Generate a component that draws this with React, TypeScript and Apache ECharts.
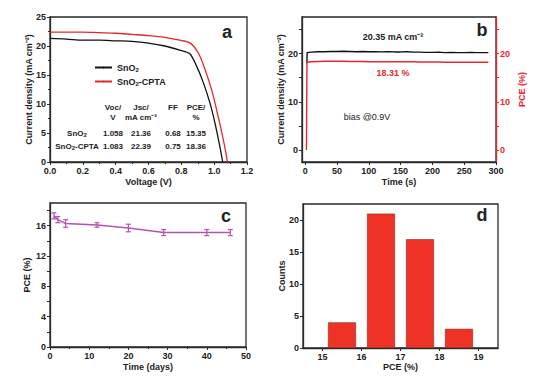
import React, { useEffect, useRef } from "react";
import * as echarts from "echarts";

// Panel a: J-V curves
const aVBlack = [0, 0.1, 0.2, 0.3, 0.4, 0.5, 0.6, 0.7, 0.79, 0.85, 0.895, 0.935, 0.975, 1.005, 1.035, 1.052];
const aJBlack = [21.3, 21.2, 21.0, 21.0, 20.9, 20.8, 20.5, 20.0, 19.3, 18.7, 16.4, 13.6, 10.1, 6.7, 2.6, 0];
const aVRed = [0, 0.1, 0.2, 0.3, 0.4, 0.5, 0.6, 0.7, 0.79, 0.855, 0.905, 0.945, 0.985, 1.015, 1.048, 1.072, 1.08];
const aJRed = [22.4, 22.4, 22.4, 22.3, 22.2, 22.0, 21.8, 21.5, 21.0, 20.5, 18.7, 15.9, 12.4, 9.0, 4.9, 1.5, 0];
const tableHeaders = ["Voc/\nV", "Jsc/\nmA cm⁻²", "FF", "PCE/\n%"];
const tableRowNames = ["{t|SnO}{s|2}", "{t|SnO}{s|2}{t|-CPTA}"];
const tableRows = [
  ["1.058", "21.36", "0.68", "15.35"],
  ["1.083", "22.39", "0.75", "18.36"],
];

// Panel b: steady-state output
const bStartTime = [2, 2.8];
const bStartCurrent = [18.0, 18.0];
const bStartPCE = [0, 18.0];
const bTime = [3, 10, 20, 30, 40, 50, 60, 70, 80, 90, 100, 110, 120, 130, 140, 150, 160, 170, 180, 190, 200, 210, 220, 230, 240, 250, 260, 270, 280, 288];
const bCurrent = [20.2, 20.3, 20.4, 20.4, 20.45, 20.45, 20.5, 20.45, 20.4, 20.45, 20.4, 20.4, 20.35, 20.4, 20.35, 20.35, 20.4, 20.3, 20.3, 20.25, 20.25, 20.3, 20.2, 20.25, 20.2, 20.2, 20.25, 20.2, 20.2, 20.2];
const bPCE = [18.2, 18.3, 18.35, 18.4, 18.4, 18.4, 18.4, 18.35, 18.35, 18.35, 18.3, 18.3, 18.3, 18.3, 18.3, 18.3, 18.3, 18.3, 18.25, 18.25, 18.25, 18.25, 18.2, 18.2, 18.2, 18.2, 18.2, 18.2, 18.2, 18.2];

// Panel c: stability
const cDays = [1, 2, 4, 12, 20, 29, 40, 46];
const cPCE = [17.3, 16.8, 16.3, 16.1, 15.7, 15.1, 15.1, 15.1];
const cErr = [0.4, 0.4, 0.5, 0.3, 0.5, 0.4, 0.4, 0.4];

// Panel d: histogram
const dCenters = [15.5, 16.5, 17.5, 18.5];
const dCounts = [4, 21, 17, 3];

const FONT = "Liberation Sans";
const RED = "#e8262b";
const PURPLE = "#b553b3";
const AX = "#2a2a2a";

function axisBase(extra: any = {}) {
  return {
    type: "value",
    axisLine: { show: true, onZero: false, lineStyle: { color: AX, width: 1.3 } },
    axisTick: { show: true, inside: false, length: 3, lineStyle: { color: AX, width: 1 } },
    axisLabel: { color: "#222", fontFamily: FONT, fontWeight: "bold", fontSize: 9, margin: 4 },
    splitLine: { show: false },
    nameLocation: "middle",
    nameTextStyle: { color: "#222", fontFamily: FONT, fontWeight: "bold", fontSize: 9 },
    ...extra,
  };
}

const minor = { show: true, splitNumber: 2, length: 2, lineStyle: { color: AX, width: 1 } };

export default function App() {
  const ref = useRef<HTMLDivElement>(null);
  useEffect(() => {
    if (!ref.current) return;
    const chart = echarts.init(ref.current, null, { renderer: "svg" });

    const gridStyle = { show: true, borderColor: AX, borderWidth: 1.3, backgroundColor: "transparent" };
    const grids = [
      { left: 50, top: 17, width: 197, height: 145, ...gridStyle },
      { left: 302, top: 17, width: 194, height: 145, ...gridStyle },
      { left: 50, top: 203, width: 196, height: 144, ...gridStyle },
      { left: 303, top: 204, width: 195, height: 144, ...gridStyle },
    ];

    const xAxes = [
      axisBase({ gridIndex: 0, min: 0, max: 1.2, interval: 0.2, name: "Voltage (V)", nameGap: 15, minorTick: minor,
        axisLabel: { ...axisBase().axisLabel, formatter: (v: number) => v.toFixed(1) } }),
      axisBase({ gridIndex: 1, min: -5, max: 300, name: "Time (s)", nameGap: 15,
        axisTick: { ...axisBase().axisTick, customValues: [0, 50, 100, 150, 200, 250, 300] },
        axisLabel: { ...axisBase().axisLabel, customValues: [0, 50, 100, 150, 200, 250, 300] } }),
      axisBase({ gridIndex: 2, min: 0, max: 50, interval: 10, name: "Time (days)", nameGap: 15, minorTick: minor }),
      axisBase({ gridIndex: 3, min: 14.5, max: 19.5, name: "PCE (%)", nameGap: 14,
        axisTick: { ...axisBase().axisTick, customValues: [15, 16, 17, 18, 19] },
        axisLabel: { ...axisBase().axisLabel, customValues: [15, 16, 17, 18, 19] } }),
    ];

    const yAxes = [
      axisBase({ gridIndex: 0, min: 0, max: 25, interval: 5, name: "Current density (mA cm⁻²)", nameGap: 16.5,
        nameMoveOverlap: false, minorTick: minor }),
      axisBase({ gridIndex: 1, min: -2.5, max: 27.6, name: "Current density (mA cm⁻²)", nameGap: 16.5, nameMoveOverlap: false,
        axisTick: { ...axisBase().axisTick, customValues: [0, 5, 10, 15, 20, 25] },
        axisLabel: { ...axisBase().axisLabel, customValues: [0, 10, 20] } }),
      axisBase({ gridIndex: 1, position: "right", min: -2.5, max: 27.6, name: "PCE (%)", nameGap: 21.5, nameMoveOverlap: false,
        axisLine: { show: true, onZero: false, lineStyle: { color: RED, width: 1.3 } },
        axisTick: { show: true, length: 3, lineStyle: { color: RED }, customValues: [0, 5, 10, 15, 20, 25] },
        axisLabel: { ...axisBase().axisLabel, color: RED, customValues: [0, 10, 20] },
        nameTextStyle: { ...axisBase().nameTextStyle, color: RED } }),
      axisBase({ gridIndex: 2, min: 0, max: 19, name: "PCE (%)", nameGap: 18.5, nameMoveOverlap: false,
        axisTick: { ...axisBase().axisTick, customValues: [0, 2, 4, 6, 8, 10, 12, 14, 16, 18] },
        axisLabel: { ...axisBase().axisLabel, customValues: [0, 4, 8, 12, 16] } }),
      axisBase({ gridIndex: 3, min: 0, max: 22.5, name: "Counts", nameGap: 16.5, nameMoveOverlap: false,
        axisTick: { ...axisBase().axisTick, customValues: [0, 5, 10, 15, 20] },
        axisLabel: { ...axisBase().axisLabel, customValues: [0, 5, 10, 15, 20] } }),
    ];

    const lineCommon = { type: "line", symbol: "none", showSymbol: false, z: 3 };

    const series: any[] = [
      { ...lineCommon, name: "SnO2", xAxisIndex: 0, yAxisIndex: 0, smooth: 0.3,
        lineStyle: { color: "#111", width: 1.3 }, itemStyle: { color: "#111" },
        data: aVBlack.map((v, i) => [v, aJBlack[i]]) },
      { ...lineCommon, name: "SnO2-CPTA", xAxisIndex: 0, yAxisIndex: 0, smooth: 0.3,
        lineStyle: { color: RED, width: 1.3 }, itemStyle: { color: RED },
        data: aVRed.map((v, i) => [v, aJRed[i]]) },
      { ...lineCommon, name: "current", xAxisIndex: 1, yAxisIndex: 1,
        lineStyle: { color: "#111", width: 1.4 },
        data: [...bStartTime.map((t, i) => [t, bStartCurrent[i]]), ...bTime.map((t, i) => [t, bCurrent[i]])].slice(1) },
      { ...lineCommon, name: "pce", xAxisIndex: 1, yAxisIndex: 2,
        lineStyle: { color: RED, width: 1.4 },
        data: [...bStartTime.map((t, i) => [t, bStartPCE[i]]), ...bTime.map((t, i) => [t, bPCE[i]])] },
      { type: "line", name: "stability", xAxisIndex: 2, yAxisIndex: 3, symbol: "none",
        lineStyle: { color: PURPLE, width: 1.5 },
        data: cDays.map((d, i) => [d, cPCE[i]]) },
      { type: "custom", name: "err", xAxisIndex: 2, yAxisIndex: 3, z: 4,
        data: cDays.map((d, i) => [d, cPCE[i] - cErr[i], cPCE[i] + cErr[i]]),
        renderItem: (params: any, api: any) => {
          const lo = api.coord([api.value(0), api.value(1)]);
          const hi = api.coord([api.value(0), api.value(2)]);
          const w = 2.5;
          const st = { stroke: PURPLE, lineWidth: 1.2 };
          return {
            type: "group",
            children: [
              { type: "line", shape: { x1: lo[0], y1: lo[1], x2: hi[0], y2: hi[1] }, style: st },
              { type: "line", shape: { x1: lo[0] - w, y1: lo[1], x2: lo[0] + w, y2: lo[1] }, style: st },
              { type: "line", shape: { x1: hi[0] - w, y1: hi[1], x2: hi[0] + w, y2: hi[1] }, style: st },
            ],
          };
        } },
      { type: "bar", name: "hist", xAxisIndex: 3, yAxisIndex: 4, barWidth: 28,
        itemStyle: { color: "#ee3226", borderColor: "#8a2a22", borderWidth: 0.6 },
        data: dCenters.map((c, i) => [c, dCounts[i]]) },
    ];

    const txt = (x: number, y: number, text: string, extra: any = {}) => ({
      type: "text", x, y,
      style: { text, fontFamily: FONT, fontWeight: "bold", fontSize: 9, fill: "#222", align: "center", verticalAlign: "middle", ...extra },
    });

    const colX = [113, 141, 173, 196];
    const graphics: any[] = [
      txt(227, 32, "a", { fontSize: 18 }),
      txt(482, 30, "b", { fontSize: 18 }),
      txt(226, 216, "c", { fontSize: 18 }),
      txt(482, 215, "d", { fontSize: 18 }),
      txt(393, 37, "20.35 mA cm⁻²", { fontSize: 9 }),
      txt(393, 73, "18.31 %", { fill: RED, fontSize: 9 }),
      txt(367, 117, "bias @0.9V", { fontWeight: "normal", fontSize: 9 }),
    ];
    tableHeaders.forEach((h, i) =>
      graphics.push(txt(colX[i], h.includes("\n") ? 112 : 107.5, h, { fontSize: 8, lineHeight: 10 })));
    const rowY = [133, 146];
    tableRowNames.forEach((n, r) => {
      graphics.push({
        type: "text", x: 77, y: rowY[r],
        style: {
          text: n, align: "center", verticalAlign: "middle", fill: "#222",
          rich: {
            t: { fontFamily: FONT, fontWeight: "bold", fontSize: 8, fill: "#222" },
            s: { fontFamily: FONT, fontWeight: "bold", fontSize: 6, fill: "#222", padding: [4, 0, 0, 0] },
          },
        },
      });
      tableRows[r].forEach((v, i) => graphics.push(txt(colX[i], rowY[r], v, { fontSize: 8 })));
    });

    chart.setOption({
      animation: false,
      backgroundColor: "#fff",
      grid: grids,
      xAxis: xAxes,
      yAxis: yAxes,
      legend: {
        data: ["SnO2", "SnO2-CPTA"],
        orient: "vertical", left: 89, top: 58, itemWidth: 17, itemHeight: 2, itemGap: 4,
        formatter: (n: string) => (n === "SnO2" ? "{t|SnO}{s|2}" : "{t|SnO}{s|2}{t|-CPTA}"),
        textStyle: {
          rich: {
            t: { fontFamily: FONT, fontWeight: "bold", fontSize: 9, color: "#222" },
            s: { fontFamily: FONT, fontWeight: "bold", fontSize: 6, color: "#222", padding: [5, 0, 0, 0] },
          },
        },
      },
      series,
      graphic: graphics,
    });
    return () => chart.dispose();
  }, []);
  return <div ref={ref} style={{ width: 538, height: 380, margin: -8 }} />;
}
